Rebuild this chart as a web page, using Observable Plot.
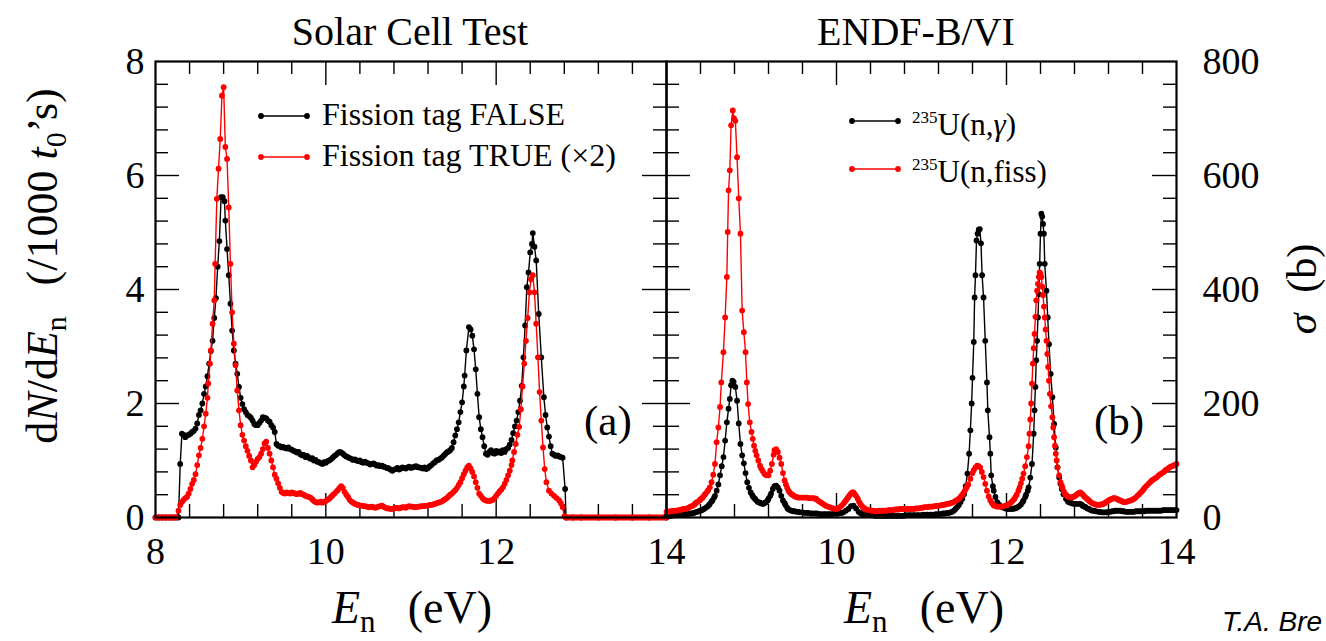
<!DOCTYPE html>
<html><head><meta charset="utf-8">
<script src="https://cdn.jsdelivr.net/npm/d3@7"></script>
<script src="https://cdn.jsdelivr.net/npm/@observablehq/plot@0.6"></script>
<style>
html,body{margin:0;padding:0;background:#fff;overflow:hidden;}
#wrap{position:relative;width:1326px;height:641px;overflow:hidden;background:#fff;}
#wrap svg{position:absolute;top:0;}
#wrap text, #wrap tspan{font-family:"Liberation Serif","Times New Roman",serif;white-space:pre;}
</style></head><body><div id="wrap"></div>
<script>
// ---------- DATA ----------
// Panel (a): Solar Cell Test, dN/dE_n (/1000 t0's) vs E_n (eV)
const tagFalse = [
[8.00,0],[8.04,0],[8.08,0],[8.12,0],[8.16,0],[8.20,0],[8.24,0],[8.27,0],
[8.29,0.94],[8.31,1.47],[8.33,1.45],[8.35,1.41],[8.37,1.44],[8.39,1.45],[8.41,1.47],[8.43,1.50],[8.45,1.52],[8.47,1.56],[8.49,1.65],[8.51,1.80],[8.53,1.88],[8.55,2.00],[8.57,2.17],[8.59,2.30],[8.61,2.48],[8.63,2.70],[8.65,2.92],[8.67,3.10],[8.69,3.50],[8.71,3.85],[8.73,4.40],[8.75,4.85],[8.77,5.62],[8.79,5.62],[8.81,5.55],[8.82,5.21],[8.84,4.71],[8.86,4.25],[8.88,3.75],[8.90,3.28],[8.92,2.93],[8.94,2.70],[8.96,2.52],[8.98,2.29],
[9.00,2.10],[9.02,1.99],[9.04,1.90],[9.06,1.85],[9.08,1.80],[9.10,1.78],[9.12,1.75],[9.14,1.70],[9.16,1.64],[9.18,1.62],[9.20,1.62],[9.22,1.66],[9.24,1.70],[9.26,1.76],[9.28,1.75],[9.30,1.74],[9.32,1.70],[9.34,1.68],[9.36,1.62],[9.38,1.58],[9.40,1.50],[9.42,1.29],[9.44,1.26],[9.46,1.25],[9.48,1.23],[9.50,1.24],[9.52,1.22],[9.54,1.21],[9.56,1.23],[9.58,1.20],[9.60,1.19],[9.62,1.17],[9.64,1.16],[9.66,1.14],[9.68,1.15],[9.70,1.11],[9.72,1.09],[9.74,1.10],[9.76,1.06],[9.78,1.08],[9.80,1.05],[9.82,1.03],[9.84,1.04],[9.86,1.00],[9.88,1.01],[9.90,0.98],[9.92,0.97],[9.94,0.95],[9.96,0.94],[9.98,0.97],
[10.00,0.96],[10.02,0.99],[10.04,1.00],[10.06,1.02],[10.08,1.05],[10.10,1.08],[10.12,1.10],[10.14,1.13],[10.16,1.15],[10.18,1.14],[10.20,1.12],[10.22,1.09],[10.24,1.07],[10.26,1.06],[10.28,1.04],[10.30,1.03],[10.32,1.01],[10.34,1.02],[10.36,1.00],[10.38,0.99],[10.40,1.00],[10.42,0.97],[10.44,0.96],[10.46,0.98],[10.48,0.96],[10.50,0.95],[10.52,0.93],[10.54,0.94],[10.56,0.95],[10.58,0.93],[10.60,0.91],[10.62,0.92],[10.64,0.90],[10.66,0.91],[10.68,0.89],[10.70,0.88],[10.72,0.87],[10.74,0.86],[10.76,0.84],[10.78,0.82],[10.80,0.84],[10.82,0.85],[10.84,0.87],[10.86,0.84],[10.88,0.86],[10.90,0.88],[10.92,0.87],[10.94,0.86],[10.96,0.88],[10.98,0.89],
[11.00,0.87],[11.02,0.88],[11.04,0.89],[11.06,0.90],[11.08,0.88],[11.10,0.88],[11.12,0.87],[11.14,0.86],[11.16,0.88],[11.18,0.85],[11.20,0.87],[11.22,0.90],[11.24,0.92],[11.26,0.95],[11.28,0.97],[11.30,1.00],[11.32,1.01],[11.34,1.03],[11.36,1.05],[11.38,1.08],[11.40,1.11],[11.42,1.14],[11.44,1.16],[11.46,1.18],[11.48,1.22],[11.50,1.32],[11.52,1.44],[11.54,1.55],[11.56,1.67],[11.58,1.85],[11.60,2.02],[11.62,2.30],[11.63,2.49],[11.65,2.93],[11.68,3.34],[11.70,3.30],[11.72,3.19],[11.74,2.95],[11.76,2.60],[11.78,2.17],[11.80,1.76],[11.82,1.55],[11.84,1.41],[11.86,1.25],[11.88,1.12],[11.90,1.10],[11.92,1.15],[11.94,1.18],[11.96,1.13],[11.98,1.12],
[12.00,1.17],[12.02,1.14],[12.04,1.16],[12.06,1.13],[12.08,1.18],[12.10,1.15],[12.12,1.20],[12.14,1.22],[12.16,1.28],[12.18,1.36],[12.20,1.48],[12.22,1.60],[12.24,1.70],[12.26,1.85],[12.28,2.05],[12.30,2.31],[12.32,2.81],[12.34,3.37],[12.36,4.04],[12.38,4.30],[12.40,4.65],[12.42,4.80],[12.43,4.99],[12.45,4.75],[12.47,4.51],[12.50,3.57],[12.53,2.81],[12.56,2.11],[12.58,1.80],[12.60,1.58],[12.62,1.42],[12.64,1.25],[12.66,1.12],[12.68,1.10],[12.70,1.08],[12.72,1.09],[12.74,1.07],[12.76,1.06],[12.78,1.05],[12.81,0.50],[12.82,0],
[12.90,0],[13.00,0],[13.20,0],[13.40,0],[13.60,0],[13.80,0],[14.00,0]
];
const tagTrueX2 = [
[8.00,0],[8.02,0],[8.04,0],[8.06,0],[8.08,0],[8.10,0],[8.12,0],[8.14,0],[8.16,0],[8.18,0],[8.20,0],[8.22,0],[8.24,0],
[8.27,0.12],[8.29,0.22],[8.31,0.27],[8.33,0.31],[8.35,0.34],[8.37,0.36],[8.39,0.42],[8.41,0.50],[8.43,0.59],[8.45,0.66],[8.47,0.76],[8.49,0.92],[8.51,1.09],[8.53,1.22],[8.55,1.38],[8.57,1.60],[8.59,1.82],[8.61,2.10],[8.62,2.35],[8.64,2.70],[8.65,2.93],[8.67,3.40],[8.69,3.81],[8.70,4.45],[8.72,5.59],[8.74,6.12],[8.76,6.64],[8.78,7.40],[8.80,7.55],[8.82,6.50],[8.84,6.29],[8.86,5.44],[8.88,4.45],[8.90,3.60],[8.92,3.05],[8.94,2.67],[8.96,2.23],[8.98,1.88],
[9.00,1.62],[9.02,1.45],[9.04,1.35],[9.06,1.25],[9.08,1.17],[9.10,1.08],[9.12,1.00],[9.14,0.88],[9.16,0.92],[9.18,0.98],[9.20,1.03],[9.22,1.06],[9.24,1.12],[9.26,1.20],[9.28,1.30],[9.30,1.33],[9.32,1.22],[9.34,1.12],[9.36,1.00],[9.38,0.88],[9.40,0.75],[9.42,0.68],[9.44,0.60],[9.46,0.52],[9.48,0.45],[9.50,0.43],[9.52,0.42],[9.54,0.44],[9.56,0.43],[9.58,0.42],[9.60,0.44],[9.62,0.43],[9.64,0.42],[9.66,0.41],[9.68,0.42],[9.70,0.43],[9.72,0.41],[9.74,0.40],[9.76,0.38],[9.78,0.37],[9.80,0.36],[9.82,0.35],[9.84,0.32],[9.86,0.29],[9.88,0.27],[9.90,0.26],[9.92,0.27],[9.94,0.28],[9.96,0.26],[9.98,0.27],
[10.00,0.29],[10.02,0.31],[10.04,0.33],[10.06,0.36],[10.08,0.39],[10.10,0.42],[10.12,0.45],[10.14,0.48],[10.16,0.52],[10.18,0.55],[10.20,0.52],[10.22,0.45],[10.24,0.40],[10.26,0.36],[10.28,0.31],[10.30,0.28],[10.32,0.26],[10.34,0.24],[10.36,0.23],[10.38,0.22],[10.40,0.21],[10.42,0.21],[10.44,0.20],[10.46,0.20],[10.48,0.19],[10.50,0.18],[10.52,0.18],[10.54,0.19],[10.56,0.18],[10.58,0.17],[10.60,0.18],[10.62,0.19],[10.64,0.20],[10.66,0.21],[10.68,0.19],[10.70,0.17],[10.72,0.16],[10.74,0.16],[10.76,0.15],[10.78,0.15],[10.80,0.16],[10.82,0.17],[10.84,0.17],[10.86,0.16],[10.88,0.17],[10.90,0.18],[10.92,0.18],[10.94,0.17],[10.96,0.19],[10.98,0.20],
[11.00,0.19],[11.02,0.19],[11.04,0.18],[11.06,0.18],[11.08,0.19],[11.10,0.19],[11.12,0.20],[11.14,0.20],[11.16,0.20],[11.18,0.21],[11.20,0.21],[11.22,0.22],[11.24,0.22],[11.26,0.23],[11.28,0.24],[11.30,0.25],[11.32,0.26],[11.34,0.27],[11.36,0.28],[11.38,0.30],[11.40,0.32],[11.42,0.34],[11.44,0.37],[11.46,0.40],[11.48,0.42],[11.50,0.45],[11.52,0.48],[11.54,0.52],[11.56,0.57],[11.58,0.62],[11.60,0.69],[11.62,0.76],[11.64,0.82],[11.66,0.88],[11.68,0.91],[11.70,0.86],[11.72,0.80],[11.74,0.72],[11.76,0.62],[11.78,0.52],[11.80,0.42],[11.82,0.38],[11.84,0.34],[11.86,0.31],[11.88,0.30],[11.90,0.29],[11.92,0.29],[11.94,0.30],[11.96,0.31],[11.98,0.34],
[12.00,0.38],[12.02,0.42],[12.04,0.46],[12.06,0.49],[12.08,0.53],[12.10,0.59],[12.12,0.66],[12.14,0.74],[12.16,0.82],[12.18,0.92],[12.19,1.00],[12.21,1.15],[12.23,1.29],[12.25,1.45],[12.27,1.59],[12.29,1.90],[12.31,2.30],[12.33,2.70],[12.35,3.10],[12.37,3.50],[12.39,3.95],[12.41,4.18],[12.43,4.25],[12.45,3.95],[12.47,3.40],[12.49,2.81],[12.51,2.20],[12.53,1.70],[12.55,1.23],[12.57,0.85],[12.59,0.62],[12.62,0.47],[12.65,0.42],[12.68,0.38],[12.71,0.34],[12.74,0.30],[12.76,0.25],[12.78,0.18],[12.80,0.02],
[12.82,0],[12.84,0],[12.86,0],[12.88,0],[12.90,0],[12.92,0],[12.94,0],[12.96,0],[12.98,0],[13.00,0],[13.02,0],[13.04,0],[13.06,0],[13.08,0],[13.10,0],[13.12,0],[13.14,0],[13.16,0],[13.18,0],[13.20,0],[13.22,0],[13.24,0],[13.26,0],[13.28,0],[13.30,0],[13.32,0],[13.34,0],[13.36,0],[13.38,0],[13.40,0],[13.42,0],[13.44,0],[13.46,0],[13.48,0],[13.50,0],[13.52,0],[13.54,0],[13.56,0],[13.58,0],[13.60,0],[13.62,0],[13.64,0],[13.66,0],[13.68,0],[13.70,0],[13.72,0],[13.74,0],[13.76,0],[13.78,0],[13.80,0],[13.82,0],[13.84,0],[13.86,0],[13.88,0],[13.90,0],[13.92,0],[13.94,0],[13.96,0],[13.98,0],[14.00,0]
];
// Panel (b): ENDF-B/VI cross sections, sigma (b) vs E_n (eV)
const u235Capture = [
[8.00,3],[8.02,3],[8.04,3],[8.06,3],[8.08,4],[8.10,4],[8.12,4],[8.14,4],[8.16,5],[8.18,5],[8.20,5],[8.22,6],[8.24,6],[8.26,6],[8.28,7],[8.30,7],[8.32,8],[8.34,9],[8.36,10],[8.38,11],[8.40,12],[8.42,13],[8.44,15],[8.46,17],[8.48,19],[8.50,22],[8.51,24],[8.53,28],[8.54,30],[8.56,35],[8.57,38],[8.59,47],[8.61,58],[8.63,74],[8.65,90],[8.67,106],[8.69,135],[8.71,167],[8.73,191],[8.745,208],[8.76,232],[8.775,240],[8.79,238],[8.81,229],[8.83,205],[8.85,165],[8.87,129],[8.89,109],[8.91,95],[8.93,78],[8.95,62],[8.97,52],[8.99,44],
[9.01,39],[9.02,36],[9.04,33],[9.05,31],[9.07,28],[9.08,27],[9.10,26],[9.11,25],[9.13,24],[9.14,24],[9.16,26],[9.17,27],[9.19,30],[9.20,33],[9.22,38],[9.23,42],[9.25,50],[9.27,55],[9.29,56],[9.31,53],[9.33,47],[9.35,38],[9.37,30],[9.39,25],[9.40,22],[9.42,17],[9.43,15],[9.45,13],[9.47,12],[9.49,11],[9.51,11],[9.53,10],[9.55,10],[9.57,9],[9.60,9],[9.62,8],[9.65,8],[9.67,8],[9.70,7],[9.72,7],[9.75,7],[9.77,7],[9.80,6],[9.82,6],[9.85,6],[9.87,6],[9.90,6],[9.92,6],[9.95,6],[9.97,7],
[10.00,7],[10.02,7],[10.04,8],[10.06,8],[10.08,9],[10.11,12],[10.14,15],[10.17,20],[10.20,21],[10.23,16],[10.26,10],[10.28,8],[10.30,6],[10.32,6],[10.35,5],[10.37,5],[10.40,4],[10.42,4],[10.45,3],[10.47,3],[10.50,3],[10.52,3],[10.55,3],[10.57,3],[10.60,3],[10.62,3],[10.65,3],[10.67,3],[10.70,3],[10.72,3],[10.75,3],[10.77,3],[10.80,3],[10.82,4],[10.85,4],[10.87,4],[10.90,4],[10.92,4],[10.95,4],[10.97,4],
[11.00,4],[11.02,5],[11.05,5],[11.07,5],[11.10,5],[11.12,5],[11.15,5],[11.17,6],[11.20,6],[11.22,6],[11.25,7],[11.27,7],[11.30,8],[11.32,8],[11.34,9],[11.36,10],[11.38,12],[11.40,15],[11.42,18],[11.44,22],[11.46,27],[11.48,33],[11.50,41],[11.52,55],[11.54,77],[11.56,112],[11.575,153],[11.59,200],[11.60,245],[11.615,308],[11.625,386],[11.635,425],[11.647,486],[11.66,498],[11.673,505],[11.686,506],[11.70,481],[11.713,425],[11.73,386],[11.75,310],[11.77,237],[11.78,188],[11.80,141],[11.81,112],[11.82,74],[11.84,55],[11.85,47],[11.87,36],[11.89,27],[11.91,23],[11.92,21],[11.94,19],[11.95,18],[11.97,17],[11.99,16],
[12.01,15],[12.03,15],[12.05,15],[12.07,15],[12.09,16],[12.10,16],[12.12,17],[12.13,18],[12.15,20],[12.17,23],[12.19,27],[12.20,30],[12.22,36],[12.23,40],[12.25,47],[12.26,53],[12.28,70],[12.30,94],[12.32,147],[12.33,188],[12.34,229],[12.35,276],[12.36,310],[12.37,351],[12.38,392],[12.39,445],[12.40,498],[12.41,533],[12.42,528],[12.43,515],[12.44,498],[12.45,445],[12.47,398],[12.485,351],[12.50,304],[12.52,252],[12.54,211],[12.56,164],[12.58,123],[12.60,88],[12.62,70],[12.635,59],[12.65,50],[12.67,41],[12.70,33],[12.72,29],[12.73,27],[12.75,26],[12.77,25],[12.79,24],[12.81,24],[12.83,24],[12.85,24],[12.87,24],[12.89,22],[12.90,20],[12.92,19],[12.93,18],[12.95,16],[12.97,15],[12.99,13],
[13.01,12],[13.03,12],[13.05,11],[13.08,10],[13.10,10],[13.12,9],[13.14,9],[13.16,9],[13.18,9],[13.20,10],[13.22,10],[13.24,11],[13.26,11],[13.28,12],[13.30,12],[13.32,12],[13.34,12],[13.36,11],[13.38,11],[13.40,10],[13.42,10],[13.44,10],[13.46,10],[13.48,10],[13.50,10],[13.52,11],[13.54,11],[13.56,11],[13.58,11],[13.60,11],[13.62,11],[13.64,12],[13.66,12],[13.68,12],[13.70,12],[13.72,12],[13.74,12],[13.76,12],[13.78,12],[13.80,12],[13.82,12],[13.84,13],[13.86,13],[13.88,13],[13.90,13],[13.92,13],[13.94,13],[13.96,13],[13.98,13],[14.00,13]
];
const u235Fission = [
[8.00,10],[8.02,10],[8.04,11],[8.06,11],[8.08,12],[8.10,12],[8.12,12],[8.14,13],[8.16,13],[8.18,14],[8.20,15],[8.22,15],[8.24,16],[8.26,17],[8.28,19],[8.30,20],[8.31,21],[8.33,23],[8.34,25],[8.36,27],[8.37,28],[8.39,30],[8.40,32],[8.42,34],[8.43,36],[8.45,40],[8.46,42],[8.48,46],[8.49,48],[8.51,53],[8.53,62],[8.55,75],[8.57,94],[8.59,132],[8.61,158],[8.63,194],[8.645,237],[8.67,290],[8.69,351],[8.71,422],[8.72,501],[8.73,574],[8.745,609],[8.76,688],[8.78,714],[8.795,700],[8.81,696],[8.83,632],[8.85,560],[8.87,498],[8.89,363],[8.91,325],[8.93,290],[8.945,237],[8.96,199],[8.98,167],
[9.00,150],[9.015,138],[9.03,126],[9.045,117],[9.06,109],[9.08,100],[9.10,91],[9.115,86],[9.13,82],[9.15,77],[9.165,75],[9.18,74],[9.20,74],[9.22,82],[9.24,94],[9.26,110],[9.27,118],[9.29,120],[9.31,115],[9.33,105],[9.35,94],[9.37,78],[9.39,65],[9.405,58],[9.42,52],[9.435,47],[9.45,44],[9.47,41],[9.49,39],[9.51,37],[9.53,36],[9.55,35],[9.57,35],[9.59,35],[9.61,35],[9.63,35],[9.65,35],[9.67,34],[9.69,34],[9.71,34],[9.73,34],[9.745,33],[9.76,33],[9.78,30],[9.80,28],[9.82,26],[9.84,24],[9.86,22],[9.88,20],[9.90,19],[9.92,18],[9.94,17],[9.96,16],[9.98,15],
[10.00,15],[10.02,16],[10.04,18],[10.06,21],[10.08,24],[10.095,27],[10.11,30],[10.125,33],[10.14,36],[10.155,39],[10.17,42],[10.185,44],[10.20,44],[10.215,41],[10.23,38],[10.25,33],[10.265,28],[10.28,24],[10.295,21],[10.31,18],[10.33,16],[10.35,14],[10.37,13],[10.39,13],[10.41,12],[10.43,12],[10.45,11],[10.47,11],[10.49,12],[10.51,12],[10.53,12],[10.55,12],[10.57,12],[10.59,12],[10.61,13],[10.63,13],[10.65,13],[10.67,13],[10.69,14],[10.71,14],[10.73,14],[10.75,15],[10.77,15],[10.79,15],[10.81,15],[10.83,15],[10.85,15],[10.87,15],[10.89,15],[10.91,15],[10.93,16],[10.95,16],[10.97,16],[10.99,17],
[11.01,17],[11.03,18],[11.05,18],[11.07,18],[11.09,19],[11.11,19],[11.13,19],[11.15,20],[11.17,20],[11.19,21],[11.22,21],[11.24,22],[11.26,22],[11.28,23],[11.30,24],[11.32,24],[11.34,25],[11.36,26],[11.38,27],[11.40,29],[11.42,31],[11.44,33],[11.46,36],[11.475,39],[11.49,42],[11.505,46],[11.52,50],[11.535,54],[11.55,58],[11.575,68],[11.60,78],[11.615,83],[11.635,88],[11.655,91],[11.67,90],[11.69,88],[11.71,80],[11.73,71],[11.75,59],[11.77,47],[11.79,37],[11.81,30],[11.83,25],[11.85,21],[11.87,20],[11.89,19],[11.91,19],[11.93,19],[11.95,19],[11.97,20],[11.99,21],
[12.01,22],[12.03,24],[12.05,26],[12.07,29],[12.09,32],[12.105,36],[12.12,40],[12.14,47],[12.155,53],[12.17,60],[12.185,68],[12.20,77],[12.22,90],[12.24,106],[12.26,125],[12.27,147],[12.28,172],[12.29,200],[12.30,235],[12.31,270],[12.32,297],[12.33,322],[12.34,352],[12.35,381],[12.36,398],[12.37,410],[12.38,422],[12.39,430],[12.40,428],[12.41,422],[12.42,405],[12.43,390],[12.44,370],[12.45,351],[12.46,330],[12.47,310],[12.48,287],[12.49,264],[12.50,240],[12.51,217],[12.525,195],[12.54,176],[12.55,158],[12.56,141],[12.57,126],[12.58,112],[12.59,100],[12.60,88],[12.62,74],[12.635,62],[12.65,56],[12.66,52],[12.675,46],[12.69,41],[12.705,39],[12.72,37],[12.735,36],[12.75,35],[12.765,35],[12.78,36],[12.795,37],[12.81,38],[12.825,40],[12.84,42],[12.855,43],[12.87,44],[12.885,42],[12.90,40],[12.915,37],[12.93,35],[12.945,33],[12.96,31],[12.975,29],[12.99,27],
[13.01,25],[13.03,24],[13.05,23],[13.07,22],[13.09,22],[13.11,23],[13.125,23],[13.14,24],[13.155,25],[13.17,27],[13.185,28],[13.20,30],[13.215,31],[13.23,32],[13.245,33],[13.26,34],[13.275,34],[13.29,33],[13.305,32],[13.32,31],[13.335,30],[13.35,29],[13.365,28],[13.38,27],[13.40,27],[13.42,28],[13.44,29],[13.46,30],[13.48,31],[13.50,33],[13.52,35],[13.54,38],[13.56,41],[13.58,44],[13.60,47],[13.615,50],[13.63,53],[13.65,56],[13.67,59],[13.69,62],[13.71,65],[13.73,67],[13.75,69],[13.77,71],[13.79,74],[13.81,76],[13.83,78],[13.85,80],[13.87,83],[13.89,85],[13.91,87],[13.93,89],[13.95,90],[13.97,92],[14.00,94]
];
// Axis ticks and labels
const xLabelsA = [8, 10, 12, 14];
const xLabelsB = [10, 12, 14];
const xMajor = [10, 12];
const xMinor = [8.4, 8.8, 9.2, 9.6, 10.4, 10.8, 11.2, 11.6, 12.4, 12.8, 13.2, 13.6];
const yLabelsA = [0, 2, 4, 6, 8];
const yMajorA = [2, 4, 6];
const yMinorA = [0.4, 0.8, 1.2, 1.6, 2.4, 2.8, 3.2, 3.6, 4.4, 4.8, 5.2, 5.6, 6.4, 6.8, 7.2, 7.6];
const yLabelsB = [0, 200, 400, 600, 800];
const yMajorB = [200, 400, 600];
const yMinorB = [40, 80, 120, 160, 240, 280, 320, 360, 440, 480, 520, 560, 640, 680, 720, 760];
const titles = ["Solar Cell Test", "ENDF-B/VI"];
const legendA = ["Fission tag FALSE", "Fission tag TRUE (\u00d72)"];
const panelTags = ["(a)", "(b)"];
const credit = "T.A. Bre";

// ---------- DRAWING ----------
const RED = "#ff0000";
const wrap = document.getElementById("wrap");
const H = 641, MT = 61, MB = 124;
const fh = H - MT - MB;
const fmt = d => String(d);

function ticks(yMinor, yMajor, fw) {
  const s = {stroke: "black", strokeWidth: 1.4};
  return [
    Plot.tickX(xMinor, {x: d => d, insetTop: fh - 13, ...s}),
    Plot.tickX(xMinor, {x: d => d, insetBottom: fh - 13, ...s}),
    Plot.tickX(xMajor, {x: d => d, insetTop: fh - 24, ...s}),
    Plot.tickX(xMajor, {x: d => d, insetBottom: fh - 24, ...s}),
    Plot.tickY(yMinor, {y: d => d, insetRight: fw - 13, ...s}),
    Plot.tickY(yMinor, {y: d => d, insetLeft: fw - 13, ...s}),
    Plot.tickY(yMajor, {y: d => d, insetRight: fw - 24, ...s}),
    Plot.tickY(yMajor, {y: d => d, insetLeft: fw - 24, ...s})
  ];
}
function series(data, color) {
  return [
    Plot.line(data, {x: d => d[0], y: d => d[1], stroke: color, strokeWidth: 1.4}),
    Plot.dot(data, {x: d => d[0], y: d => d[1], r: 2.9, fill: color})
  ];
}
const plotStyle = {background: "transparent", overflow: "visible"};

// Left panel: frame 155 -> 666
const left = Plot.plot({
  width: 700, height: H,
  marginLeft: 155, marginRight: 34, marginTop: MT, marginBottom: MB,
  style: plotStyle,
  x: {domain: [8, 14]},
  y: {domain: [0, 8]},
  marks: [
    ...ticks(yMinorA, yMajorA, 511),
    ...series(tagFalse, "black"),
    ...series(tagTrueX2, RED),
    Plot.frame({stroke: "black", strokeWidth: 2.2}),
    Plot.axisX({ticks: xLabelsA, tickFormat: fmt, tickSize: 0, tickPadding: 20, fontSize: 38, label: null}),
    Plot.axisY({ticks: yLabelsA, tickFormat: fmt, tickSize: 0, tickPadding: 11, fontSize: 38, label: null})
  ]
});
left.style.left = "0px";
wrap.appendChild(left);

// Right panel: frame 666 -> 1176
const right = Plot.plot({
  width: 700, height: H,
  marginLeft: 40, marginRight: 150, marginTop: MT, marginBottom: MB,
  style: plotStyle,
  x: {domain: [8, 14]},
  y: {domain: [0, 800]},
  marks: [
    ...ticks(yMinorB, yMajorB, 510),
    ...series(u235Capture, "black"),
    ...series(u235Fission, RED),
    Plot.frame({stroke: "black", strokeWidth: 2.2}),
    Plot.axisX({ticks: xLabelsB, tickFormat: fmt, tickSize: 0, tickPadding: 20, fontSize: 38, label: null}),
    Plot.axisY({anchor: "right", ticks: yLabelsB, tickFormat: fmt, tickSize: 0, tickPadding: 26, fontSize: 38, label: null})
  ]
});
right.style.left = "626px";
wrap.appendChild(right);

// Text overlay (titles, axis titles, legends, panel tags, credit)
const ov = d3.create("svg").attr("width", 1326).attr("height", H)
  .style("left", "0px").style("pointer-events", "none");

function txt(x, y, size, anchor) {
  return ov.append("text").attr("x", x).attr("y", y).attr("font-size", size)
    .attr("text-anchor", anchor || "start").attr("fill", "black");
}
txt(410, 45, 40, "middle").text(titles[0]);
txt(916, 45, 40, "middle").text(titles[1]);

function enLabel(cx) {
  const t = txt(cx, 623, 46, "middle");
  t.append("tspan").attr("font-style", "italic").text("E");
  t.append("tspan").attr("font-size", 31).attr("dy", 9).text("n");
  t.append("tspan").attr("dy", -9).text("\u2002\u2009(eV)");
}
enLabel(412);
enLabel(924);

// left y title
{
  const t = ov.append("text").attr("transform", "translate(57,266) rotate(-90)")
    .attr("text-anchor", "middle").attr("font-size", 44).attr("fill", "black");
  t.append("tspan").text("d");
  t.append("tspan").attr("font-style", "italic").text("N");
  t.append("tspan").text("/d");
  t.append("tspan").attr("font-style", "italic").text("E");
  t.append("tspan").attr("font-size", 30).attr("dy", 9).text("n");
  t.append("tspan").attr("dy", -9).text("\u2002\u2009(/1000 ");
  t.append("tspan").attr("font-style", "italic").text("t");
  t.append("tspan").attr("font-size", 30).attr("dy", 9).text("0");
  t.append("tspan").attr("dy", -9).text("\u2019s)");
}
// right y title
{
  const t = ov.append("text").attr("transform", "translate(1316,289) rotate(-90)")
    .attr("text-anchor", "middle").attr("font-size", 42).attr("fill", "black");
  t.append("tspan").attr("font-style", "italic").text("\u03c3");
  t.append("tspan").text("\u2002(b)");
}

// legend swatches
function swatch(x1, x2, y, color) {
  ov.append("line").attr("x1", x1).attr("x2", x2).attr("y1", y).attr("y2", y)
    .attr("stroke", color).attr("stroke-width", 1.5);
  ov.append("circle").attr("cx", x1).attr("cy", y).attr("r", 2.9).attr("fill", color);
  ov.append("circle").attr("cx", x2).attr("cy", y).attr("r", 2.9).attr("fill", color);
}
swatch(261, 307, 116, "black");
swatch(261, 307, 157, RED);
txt(322, 125, 32).text(legendA[0]);
txt(322, 166, 32).text(legendA[1]);

swatch(852, 898, 121, "black");
swatch(852, 898, 169, RED);
function nuc(y, reaction, italicPart) {
  const t = txt(912, y, 31);
  t.append("tspan").attr("font-size", 17).attr("dy", -12).text("235");
  t.append("tspan").attr("dy", 12).text("U(n,");
  const r = t.append("tspan").text(reaction);
  if (italicPart) r.attr("font-style", "italic");
  t.append("tspan").text(")");
}
nuc(135, "\u03b3", true);
nuc(182, "fiss", false);

txt(584, 435, 43).text(panelTags[0]);
txt(1094, 435, 43).text(panelTags[1]);

ov.append("text").attr("x", 1222).attr("y", 631)
  .attr("style", "font-family:'Liberation Sans',Arial,sans-serif;font-style:italic;font-size:28px")
  .attr("fill", "black").text(credit);

wrap.appendChild(ov.node());
</script></body></html>
